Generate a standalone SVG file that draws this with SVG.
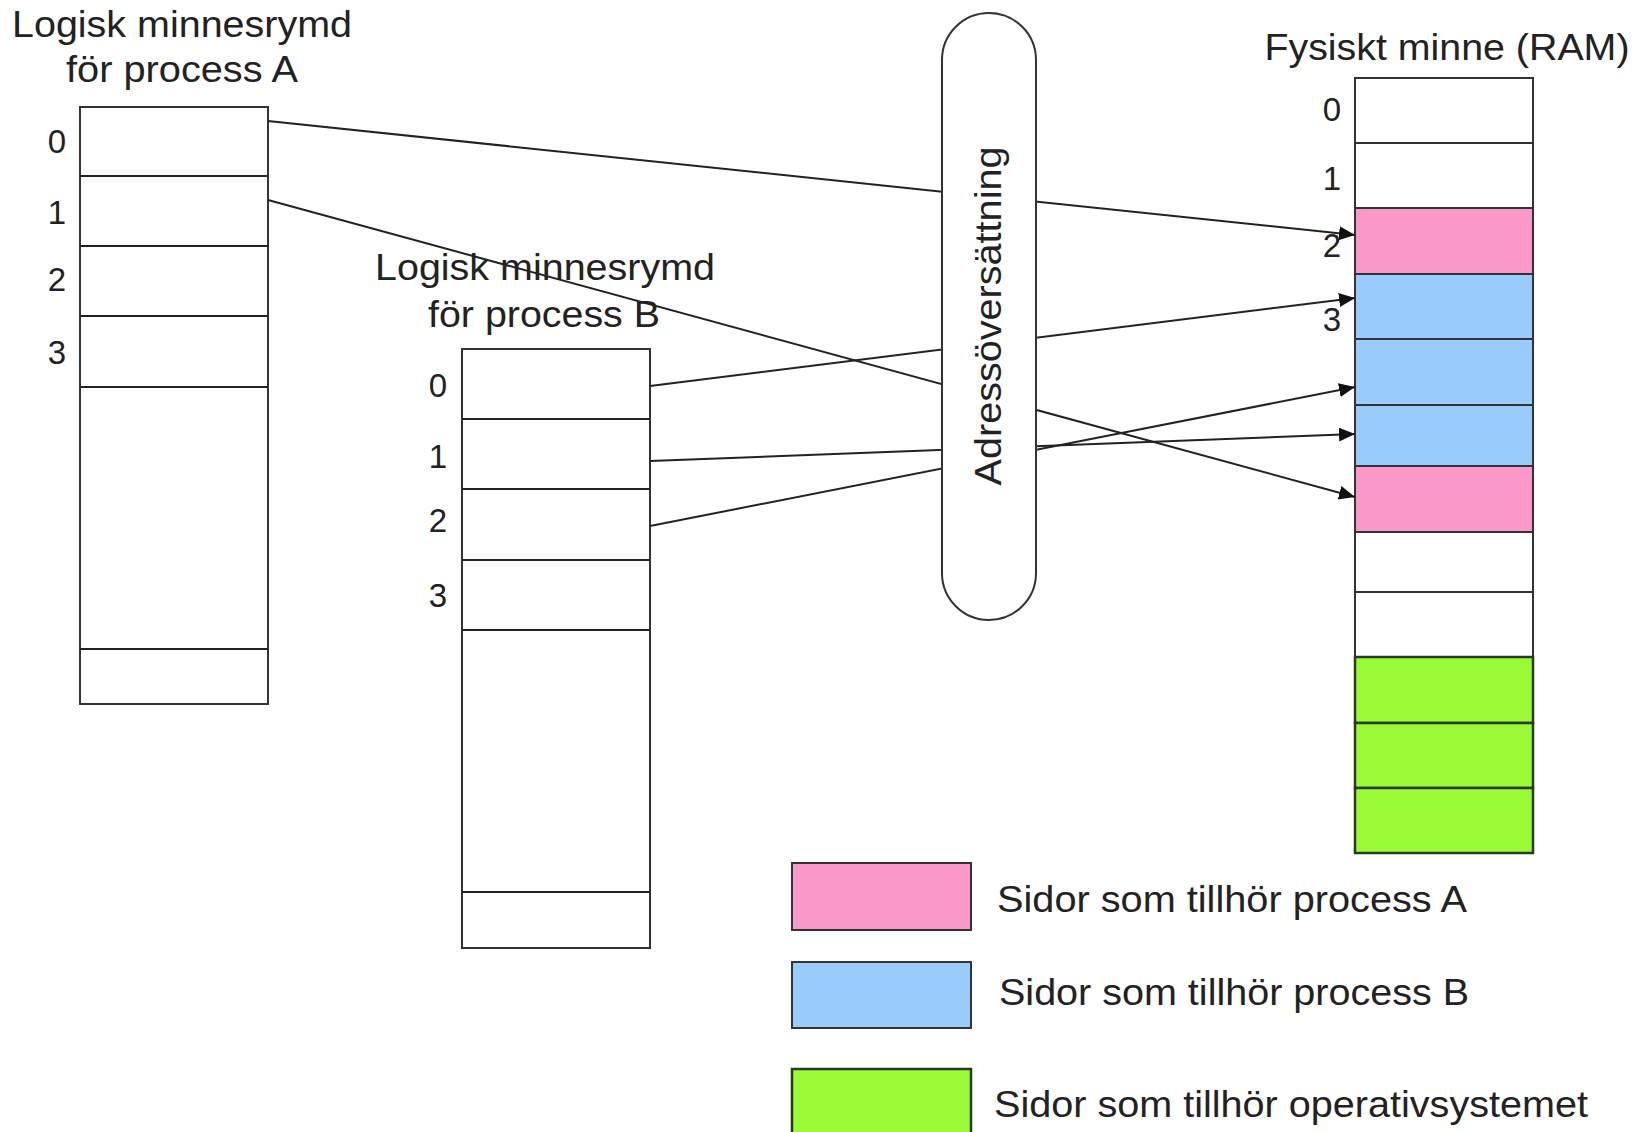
<svg xmlns="http://www.w3.org/2000/svg" width="1649" height="1132" viewBox="0 0 1649 1132">
<style>
.t{font-family:"Liberation Sans",Arial,sans-serif;font-size:37px;fill:#222}
.d{font-family:"Liberation Sans",Arial,sans-serif;font-size:33px;fill:#222;text-anchor:middle}
.cell{fill:#fff;stroke:#333;stroke-width:2}
.pa{fill:#fa99c9;stroke:#333;stroke-width:2}
.pb{fill:#99ccfc;stroke:#333;stroke-width:2}
.os{fill:#9afa36;stroke:#2a3a20;stroke-width:2.5}
.ln{stroke:#222;stroke-width:2;fill:none}
</style>
<defs>
<marker id="arr" markerUnits="userSpaceOnUse" markerWidth="18" markerHeight="16" refX="16" refY="8" orient="auto">
<path d="M0,1 L16,8 L0,15 Z" fill="#111"/>
</marker>
</defs>
<rect width="1649" height="1132" fill="#fff"/>

<g id="processA">
<text class="t" x="182" y="37" text-anchor="middle" textLength="340" lengthAdjust="spacingAndGlyphs">Logisk minnesrymd</text>
<text class="t" x="182" y="82" text-anchor="middle" textLength="232" lengthAdjust="spacingAndGlyphs">för process A</text>
<rect class="cell" x="80" y="107" width="188" height="597"/>
<line class="ln" x1="80" y1="176" x2="268" y2="176"/>
<line class="ln" x1="80" y1="246" x2="268" y2="246"/>
<line class="ln" x1="80" y1="316" x2="268" y2="316"/>
<line class="ln" x1="80" y1="387" x2="268" y2="387"/>
<line class="ln" x1="80" y1="649" x2="268" y2="649"/>
<text class="d" x="57" y="153">0</text>
<text class="d" x="57" y="224">1</text>
<text class="d" x="57" y="291">2</text>
<text class="d" x="57" y="364">3</text>
</g>

<g id="processB">
<text class="t" x="545" y="280" text-anchor="middle" textLength="340" lengthAdjust="spacingAndGlyphs">Logisk minnesrymd</text>
<text class="t" x="544" y="327" text-anchor="middle" textLength="232" lengthAdjust="spacingAndGlyphs">för process B</text>
<rect class="cell" x="462" y="349" width="188" height="599"/>
<line class="ln" x1="462" y1="419" x2="650" y2="419"/>
<line class="ln" x1="462" y1="489" x2="650" y2="489"/>
<line class="ln" x1="462" y1="560" x2="650" y2="560"/>
<line class="ln" x1="462" y1="630" x2="650" y2="630"/>
<line class="ln" x1="462" y1="892" x2="650" y2="892"/>
<text class="d" x="438" y="397">0</text>
<text class="d" x="438" y="468">1</text>
<text class="d" x="438" y="532">2</text>
<text class="d" x="438" y="607">3</text>
</g>

<g id="ram">
<text class="t" x="1447" y="60" text-anchor="middle" textLength="365" lengthAdjust="spacingAndGlyphs">Fysiskt minne (RAM)</text>
<rect class="cell" x="1355" y="78" width="178" height="65"/>
<rect class="cell" x="1355" y="143" width="178" height="65"/>
<rect class="pa" x="1355" y="208" width="178" height="66"/>
<rect class="pb" x="1355" y="274" width="178" height="65"/>
<rect class="pb" x="1355" y="339" width="178" height="66"/>
<rect class="pb" x="1355" y="405" width="178" height="61"/>
<rect class="pa" x="1355" y="466" width="178" height="66"/>
<rect class="cell" x="1355" y="532" width="178" height="60"/>
<rect class="cell" x="1355" y="592" width="178" height="65"/>
<rect class="os" x="1355" y="657" width="178" height="66"/>
<rect class="os" x="1355" y="723" width="178" height="65"/>
<rect class="os" x="1355" y="788" width="178" height="65"/>
<text class="d" x="1332" y="121">0</text>
<text class="d" x="1332" y="190">1</text>
<text class="d" x="1332" y="257">2</text>
<text class="d" x="1332" y="331">3</text>
</g>

<g id="connectors">
<line class="ln" x1="268" y1="121" x2="1355" y2="235" marker-end="url(#arr)"/>
<line class="ln" x1="268" y1="200" x2="1355" y2="497" marker-end="url(#arr)"/>
<line class="ln" x1="650" y1="386" x2="1355" y2="298" marker-end="url(#arr)"/>
<line class="ln" x1="650" y1="461" x2="1355" y2="434" marker-end="url(#arr)"/>
<line class="ln" x1="650" y1="526" x2="1355" y2="387" marker-end="url(#arr)"/>
</g>

<g id="translation">
<rect x="942" y="13" width="94" height="607" rx="47" ry="47" fill="#fff" stroke="#333" stroke-width="2"/>
<text class="t" transform="translate(1001,316) rotate(-90)" text-anchor="middle" textLength="339" lengthAdjust="spacingAndGlyphs">Adressöversättning</text>
</g>

<g id="legend">
<rect class="pa" x="792" y="863" width="179" height="67"/>
<text class="t" x="997" y="912" textLength="470" lengthAdjust="spacingAndGlyphs">Sidor som tillhör process A</text>
<rect class="pb" x="792" y="962" width="179" height="66"/>
<text class="t" x="999" y="1005" textLength="470" lengthAdjust="spacingAndGlyphs">Sidor som tillhör process B</text>
<rect class="os" x="792" y="1069" width="179" height="70"/>
<text class="t" x="994" y="1117" textLength="594" lengthAdjust="spacingAndGlyphs">Sidor som tillhör operativsystemet</text>
</g>
</svg>
